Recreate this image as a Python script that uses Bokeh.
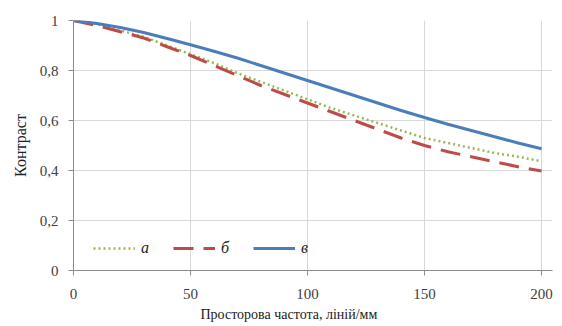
from bokeh.plotting import figure
from bokeh.models import Range1d, Legend, LegendItem, CustomJSTickFormatter, FixedTicker, Title
from bokeh.embed import file_html
from bokeh.resources import INLINE

freq = [0, 10, 20, 30, 40, 50, 60, 70, 80, 90, 100, 110, 120, 130, 140, 150, 160, 170, 180, 190, 200]
contrast_a = [1.0, 0.985, 0.96, 0.935, 0.90, 0.865, 0.83, 0.79, 0.755, 0.72, 0.685, 0.65, 0.62, 0.59, 0.56, 0.53, 0.51, 0.49, 0.47, 0.455, 0.437]
contrast_b = [1.0, 0.98, 0.955, 0.93, 0.895, 0.86, 0.82, 0.78, 0.74, 0.705, 0.67, 0.635, 0.60, 0.565, 0.53, 0.50, 0.475, 0.455, 0.435, 0.415, 0.398]
contrast_v = [1.0, 0.988, 0.972, 0.952, 0.928, 0.903, 0.877, 0.85, 0.82, 0.79, 0.76, 0.73, 0.70, 0.67, 0.64, 0.612, 0.585, 0.56, 0.535, 0.51, 0.487]
series_labels = ["а", "б", "в"]
x_ticks = [0, 50, 100, 150, 200]
y_ticks = [0, 0.2, 0.4, 0.6, 0.8, 1.0]
x_label = "Просторова частота, ліній/мм"
y_label = "Контраст"

SERIF = "Liberation Serif"

p = figure(width=560, height=324, output_backend="svg", toolbar_location=None,
           x_range=Range1d(0, 204.7), y_range=Range1d(0, 1.0),
           min_border_left=73, min_border_right=8, min_border_top=20, min_border_bottom=52)
p.outline_line_color = None
p.background_fill_color = "white"

la = p.line(freq, contrast_a, line_color="#98b954", line_width=2.5, line_dash="2 3")
lb = p.line(freq, contrast_b, line_color="#be4b48", line_width=3, line_dash="20 10")
lv = p.line(freq, contrast_v, line_color="#4a7ebb", line_width=3)

p.axis.axis_line_color = "#8c8c8c"
p.axis.major_tick_line_color = "#8c8c8c"
p.axis.minor_tick_line_color = None
p.axis.major_tick_out = 5
p.axis.major_tick_in = 0
p.axis.major_label_text_font = SERIF
p.axis.major_label_text_font_size = "15px"
p.axis.major_label_text_color = "#404040"
p.axis.axis_label_text_font = SERIF
p.axis.axis_label_text_font_style = "normal"
p.axis.axis_label_text_color = "#222222"

p.xaxis.ticker = FixedTicker(ticks=x_ticks)
p.yaxis.ticker = FixedTicker(ticks=y_ticks)
p.yaxis.formatter = CustomJSTickFormatter(code="return (Math.round(tick*10)/10).toString().replace('.', ',');")
p.yaxis.axis_label = y_label
p.yaxis.axis_label_text_font_size = "16px"
p.xaxis.major_label_standoff = 13
p.yaxis.major_label_standoff = 10
p.yaxis.axis_label_standoff = 8

xt = Title(text=x_label, align="left", offset=127, text_font=SERIF, text_font_size="14px",
           text_font_style="normal", text_color="#222222", standoff=6)
p.add_layout(xt, "below")

p.xgrid.grid_line_color = "#d9d9d9"
p.ygrid.grid_line_color = "#d9d9d9"

legend = Legend(items=[LegendItem(label=series_labels[0], renderers=[la]),
                       LegendItem(label=series_labels[1], renderers=[lb]),
                       LegendItem(label=series_labels[2], renderers=[lv])],
                orientation="horizontal", location=(20, 13),
                background_fill_alpha=0, border_line_color=None,
                label_text_font=SERIF, label_text_font_style="italic",
                label_text_font_size="16px", label_text_color="#222222",
                glyph_width=42, glyph_height=16, spacing=12, padding=4, margin=0,
                label_standoff=6)
p.add_layout(legend, "center")

open("out.html", "w").write(file_html(p, INLINE))
